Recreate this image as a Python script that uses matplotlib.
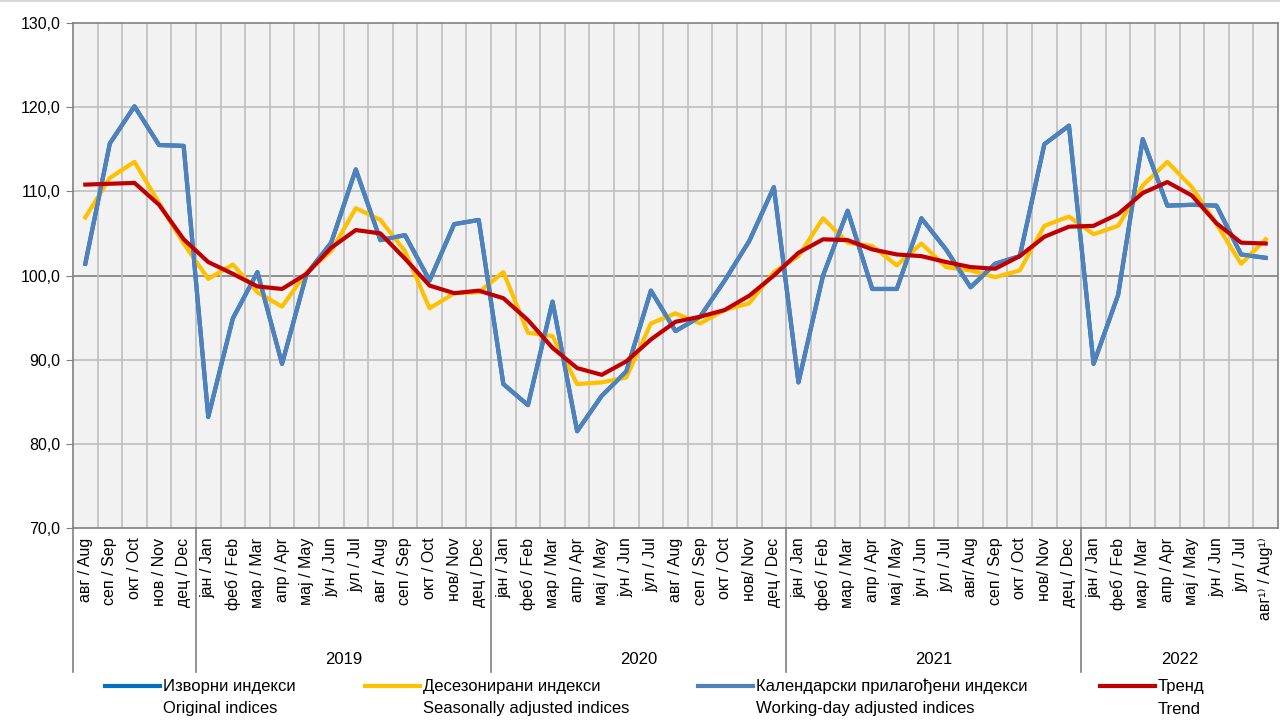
import numpy as np
import matplotlib.pyplot as plt
from matplotlib.lines import Line2D

plt.rcParams['font.family'] = ['Liberation Sans Narrow', 'Liberation Sans', 'DejaVu Sans']

# months Aug 2018 .. Aug 2022
months = ['авг / Aug', 'сеп / Sep', 'окт / Oct', 'нов / Nov', 'дец / Dec',
          'јан / Jan', 'феб / Feb', 'мар / Mar', 'апр / Apr', 'мај / May', 'јун / Jun',
          'јул / Jul', 'авг / Aug', 'сеп / Sep', 'окт / Oct', 'нов/ Nov', 'дец / Dec',
          'јан / Jan', 'феб / Feb', 'мар / Mar', 'апр / Apr', 'мај / May', 'јун / Jun',
          'јул / Jul', 'авг / Aug', 'сеп / Sep', 'окт / Oct', 'нов/ Nov', 'дец / Dec',
          'јан / Jan', 'феб / Feb', 'мар / Mar', 'апр / Apr', 'мај / May', 'јун / Jun',
          'јул / Jul', 'авг/ Aug', 'сеп / Sep', 'окт / Oct', 'нов/ Nov', 'дец / Dec',
          'јан / Jan', 'феб / Feb', 'мар / Mar', 'апр / Apr', 'мај / May', 'јун / Jun',
          'јул / Jul', 'авг¹⁾ / Aug¹⁾']
years = ['2019', '2020', '2021', '2022']
year_start = [5, 17, 29, 41]
year_len = [12, 12, 12, 8]

working_day = [101.4, 115.7, 120.1, 115.5, 115.4,
               83.2, 94.9, 100.4, 89.5, 100.2, 103.9, 112.6, 104.2, 104.8, 99.4, 106.1, 106.6,
               87.1, 84.6, 96.9, 81.5, 85.7, 88.6, 98.2, 93.4, 95.1, 99.4, 104.1, 110.5,
               87.3, 100.0, 107.7, 98.4, 98.4, 106.8, 103.1, 98.6, 101.4, 102.3, 115.6, 117.8,
               89.5, 97.7, 116.2, 108.3, 108.4, 108.3, 102.5, 102.1]
original = list(working_day)  # hidden under the working-day line in the picture
seasonal = [106.9, 111.6, 113.5, 108.6, 103.8,
            99.6, 101.3, 98.0, 96.3, 100.4, 102.9, 108.0, 106.6, 102.9, 96.1, 97.9, 98.0,
            100.4, 93.2, 92.8, 87.1, 87.3, 87.9, 94.3, 95.5, 94.3, 95.9, 96.7, 100.4,
            102.3, 106.8, 103.9, 103.5, 101.2, 103.8, 101.0, 100.6, 99.8, 100.6, 105.9, 107.0,
            104.9, 105.9, 110.7, 113.5, 110.5, 106.1, 101.4, 104.3]
trend = [110.8, 110.9, 111.0, 108.4, 104.3,
         101.6, 100.2, 98.7, 98.4, 100.2, 103.3, 105.4, 105.0, 102.0, 98.8, 97.9, 98.2,
         97.3, 94.7, 91.4, 89.0, 88.2, 89.8, 92.4, 94.5, 95.1, 95.9, 97.6, 100.0,
         102.7, 104.3, 104.2, 103.1, 102.5, 102.3, 101.6, 101.0, 100.8, 102.3, 104.6, 105.8,
         105.9, 107.3, 109.8, 111.1, 109.5, 106.2, 103.9, 103.8]

names_sr = ['Изворни индекси', 'Десезонирани индекси', 'Календарски прилагођени индекси', 'Тренд']
names_en = ['Original indices', 'Seasonally adjusted indices', 'Working-day adjusted indices', 'Trend']
colors = ['#0070C0', '#FFC000', '#4F81BD', '#C00000']

fig = plt.figure(figsize=(12.8, 7.21), dpi=100)
ax = fig.add_axes([73 / 1280, 193 / 721, 1205 / 1280, 505 / 721])
ax.set_facecolor('#F2F2F2')

x = np.arange(len(months))
ax.plot(x, original, color=colors[0], lw=3, zorder=3)
ax.plot(x, seasonal, color=colors[1], lw=3, zorder=4)
ax.plot(x, working_day, color=colors[2], lw=3, zorder=5)
ax.plot(x, trend, color=colors[3], lw=3, zorder=6)

ax.set_xlim(-0.5, len(months) - 0.5)
ax.set_ylim(70, 130)
ax.set_yticks(np.arange(70, 131, 10))
ax.set_yticklabels([f'{v:.1f}'.replace('.', ',') for v in np.arange(70, 131, 10)], fontsize=11.5)
for v in np.arange(80, 130, 10):
    ax.axhline(v, color='#808080' if v == 100 else '#BFBFBF', lw=1.2, zorder=1)
for b in np.arange(0.5, len(months) - 1, 1):
    ax.axvline(b, color='#BFBFBF', lw=1.2, zorder=1)

ax.set_xticks(x)
ax.set_xticklabels(months, rotation=90, fontsize=11.5, va='top')
ax.tick_params(axis='x', length=0, pad=7)
ax.tick_params(axis='y', length=5, color='#808080', pad=4)
for s in ax.spines.values():
    s.set_color('#808080')
    s.set_linewidth(1.2)

# year separators and year labels
trans = ax.get_xaxis_transform()
for b in [-0.5] + [s - 0.5 for s in year_start]:
    ax.add_line(Line2D([b, b], [0, -0.285], transform=trans, color='#808080',
                       lw=1.2, clip_on=False))
for yr, st, n in zip(years, year_start, year_len):
    ax.text(st - 0.5 + n / 2, -0.261, yr, transform=trans, ha='center', va='center',
            fontsize=12)

# legend
hx = [105, 365, 698, 1100]
for i in range(4):
    fig.add_artist(Line2D([hx[i] / 1280, (hx[i] + 55) / 1280], [1 - 686 / 721] * 2,
                          color=colors[i], lw=3))
    fig.text((hx[i] + 58) / 1280, 1 - 686 / 721, names_sr[i], fontsize=12, va='center')
    fig.text((hx[i] + 58) / 1280, 1 - 709 / 721, names_en[i], fontsize=12, va='center')

fig.add_artist(Line2D([0, 1], [0.998, 0.998], color='#D9D9D9', lw=1.5))

fig.savefig('out.png', dpi=100)
